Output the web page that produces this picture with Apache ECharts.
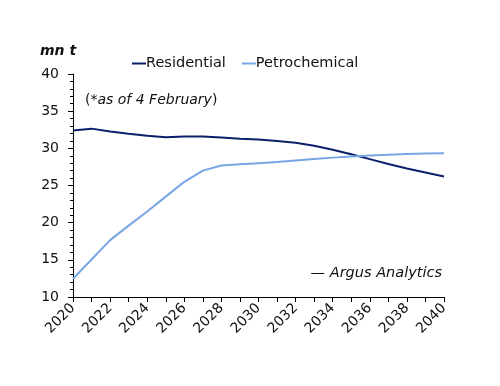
<!DOCTYPE html>
<html><head><meta charset="utf-8">
<script src="https://cdn.jsdelivr.net/npm/echarts@6/dist/echarts.min.js"></script>
<style>html,body{margin:0;padding:0;background:#fff}#c{width:500px;height:386px}</style>
</head><body><div id="c"></div>
<script>
const years = ['2020','2021','2022','2023','2024','2025','2026','2027','2028','2029','2030','2031','2032','2033','2034','2035','2036','2037','2038','2039','2040'];
const residential = [32.4,32.65,32.25,31.95,31.7,31.5,31.6,31.6,31.45,31.3,31.2,31.0,30.75,30.35,29.8,29.2,28.55,27.9,27.3,26.75,26.2];
const petrochemical = [12.45,15.05,17.65,19.6,21.5,23.5,25.5,27.0,27.7,27.85,28.0,28.15,28.35,28.55,28.75,28.9,29.05,29.15,29.25,29.3,29.35];
const yTicks = {min:10, max:40, interval:5};
const FONT = 'DejaVu Sans';
const chart = echarts.init(document.getElementById('c'), null, {renderer:'canvas'});
chart.setOption({
  animation:false,
  textStyle:{fontFamily:FONT},
  grid:{left:73, right:56, top:74, bottom:89, containLabel:false},
  legend:{
    top:51, left:127, itemGap:16, itemWidth:14, itemHeight:2,
    icon:'rect',
    textStyle:{fontSize:14.5, color:'#111', fontFamily:FONT, padding:[0,0,0,-5]},
    data:['Residential','Petrochemical']
  },
  graphic:[
    {type:'text', left:40, top:44, style:{text:'mn t', font:'italic bold 14px '+FONT, fill:'#111'}},
    {type:'text', left:85, top:93, style:{
      text:'{n|(}{i|*as of 4 February}{n|)}',
      rich:{n:{fontSize:14, fontFamily:FONT, fill:'#111'}, i:{fontSize:14, fontStyle:'italic', fontFamily:FONT, fill:'#111'}}
    }},
    {type:'text', right:58, top:266, style:{text:'— Argus Analytics', font:'italic 14.5px '+FONT, fill:'#111'}}
  ],
  xAxis:{
    type:'category', data:years, boundaryGap:false,
    axisLine:{lineStyle:{color:'#000', width:1}},
    axisTick:{show:true, interval:0, length:5, lineStyle:{color:'#000'}},
    axisLabel:{interval:1, rotate:45, fontSize:14, color:'#111', margin:9, fontFamily:FONT},
    splitLine:{show:false}
  },
  yAxis:{
    type:'value', min:yTicks.min, max:yTicks.max, interval:yTicks.interval,
    axisLine:{show:true, lineStyle:{color:'#000', width:1}},
    axisTick:{show:true, length:5, lineStyle:{color:'#000'}},
    minorTick:{show:true, splitNumber:5, length:3, lineStyle:{color:'#000'}},
    axisLabel:{fontSize:14, color:'#111', margin:14, fontFamily:FONT},
    splitLine:{show:false}
  },
  series:[
    {name:'Residential', type:'line', data:residential, showSymbol:false, smooth:false,
     lineStyle:{color:'#0b1f6b', width:2}, itemStyle:{color:'#0b1f6b'}},
    {name:'Petrochemical', type:'line', data:petrochemical, showSymbol:false, smooth:false,
     lineStyle:{color:'#78a5e4', width:2}, itemStyle:{color:'#78a5e4'}}
  ]
});
</script></body></html>
